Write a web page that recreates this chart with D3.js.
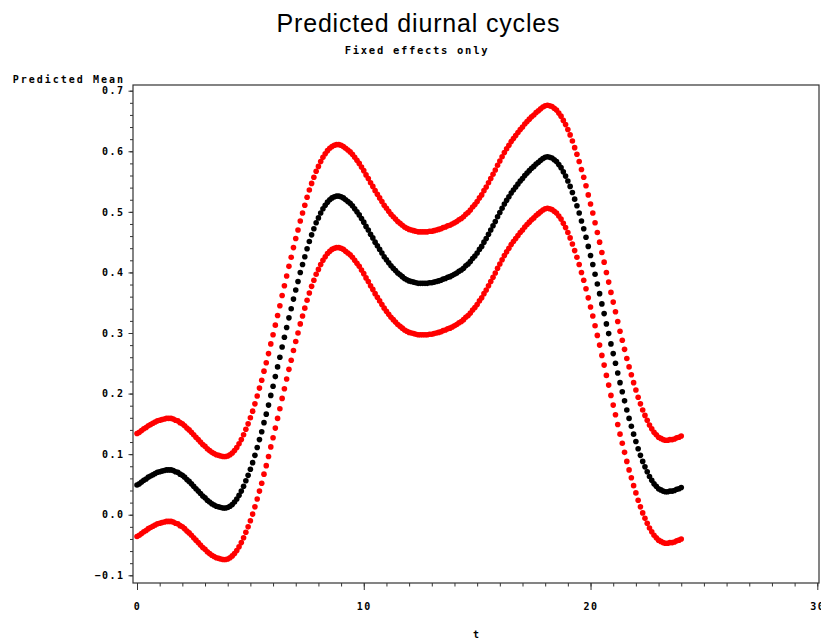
<!DOCTYPE html>
<html>
<head>
<meta charset="utf-8">
<script src="https://cdn.jsdelivr.net/npm/d3@7"></script>
<style>
    body { margin: 0; background: #fff; }
    text { font-family: "DejaVu Sans Mono", monospace; font-weight: bold; fill: #000; }
</style>
</head>
<body>
<div id="container"></div>
<script>
// t runs 0..24 by 0.1 (241 points)
const tValues = d3.range(0, 241).map(i => i / 10);

// predicted mean (black)
const meanVals = [
    0.049, 0.051, 0.054, 0.057, 0.059, 0.062, 0.064, 0.066, 0.068, 0.070,
    0.071, 0.072, 0.073, 0.074, 0.074, 0.074, 0.073, 0.071, 0.070, 0.067,
    0.065, 0.062, 0.058, 0.055, 0.051, 0.047, 0.043, 0.039, 0.035, 0.031,
    0.028, 0.024, 0.021, 0.018, 0.016, 0.014, 0.013, 0.012, 0.011, 0.011,
    0.012, 0.014, 0.017, 0.021, 0.026, 0.032, 0.039, 0.047, 0.056, 0.065,
    0.075, 0.086, 0.098, 0.111, 0.124, 0.137, 0.152, 0.166, 0.181, 0.197,
    0.212, 0.228, 0.244, 0.260, 0.277, 0.293, 0.309, 0.325, 0.340, 0.356,
    0.371, 0.385, 0.400, 0.413, 0.426, 0.439, 0.451, 0.462, 0.472, 0.482,
    0.490, 0.498, 0.505, 0.511, 0.516, 0.520, 0.523, 0.525, 0.526, 0.526,
    0.525, 0.523, 0.520, 0.517, 0.514, 0.510, 0.505, 0.500, 0.495, 0.489,
    0.483, 0.476, 0.470, 0.463, 0.457, 0.450, 0.444, 0.438, 0.432, 0.426,
    0.421, 0.416, 0.411, 0.407, 0.403, 0.399, 0.396, 0.393, 0.390, 0.388,
    0.386, 0.385, 0.384, 0.383, 0.382, 0.382, 0.382, 0.382, 0.382, 0.383,
    0.383, 0.384, 0.385, 0.386, 0.387, 0.389, 0.390, 0.392, 0.393, 0.395,
    0.397, 0.399, 0.402, 0.404, 0.407, 0.411, 0.414, 0.418, 0.423, 0.427,
    0.432, 0.438, 0.443, 0.450, 0.456, 0.463, 0.470, 0.477, 0.484, 0.492,
    0.499, 0.506, 0.513, 0.519, 0.525, 0.531, 0.536, 0.541, 0.546, 0.551,
    0.555, 0.560, 0.564, 0.568, 0.572, 0.575, 0.579, 0.582, 0.585, 0.588,
    0.590, 0.591, 0.590, 0.589, 0.586, 0.583, 0.578, 0.573, 0.566, 0.559,
    0.551, 0.542, 0.532, 0.521, 0.510, 0.498, 0.485, 0.472, 0.458, 0.443,
    0.428, 0.413, 0.397, 0.381, 0.365, 0.348, 0.332, 0.315, 0.299, 0.282,
    0.266, 0.250, 0.234, 0.218, 0.203, 0.188, 0.173, 0.159, 0.146, 0.133,
    0.121, 0.109, 0.098, 0.088, 0.079, 0.071, 0.063, 0.057, 0.051, 0.047,
    0.043, 0.041, 0.039, 0.038, 0.038, 0.039, 0.039, 0.040, 0.042, 0.043,
    0.045
];

// upper limit (red)
const upperVals = [
    0.134, 0.136, 0.139, 0.142, 0.144, 0.147, 0.149, 0.151, 0.153, 0.155,
    0.156, 0.157, 0.158, 0.159, 0.159, 0.159, 0.158, 0.156, 0.155, 0.152,
    0.150, 0.147, 0.143, 0.140, 0.136, 0.132, 0.128, 0.124, 0.120, 0.116,
    0.113, 0.109, 0.106, 0.103, 0.101, 0.099, 0.098, 0.097, 0.096, 0.096,
    0.097, 0.099, 0.102, 0.106, 0.111, 0.117, 0.124, 0.132, 0.141, 0.150,
    0.160, 0.171, 0.183, 0.196, 0.209, 0.222, 0.237, 0.251, 0.266, 0.282,
    0.297, 0.313, 0.329, 0.345, 0.362, 0.378, 0.394, 0.410, 0.425, 0.441,
    0.456, 0.470, 0.485, 0.498, 0.511, 0.524, 0.536, 0.547, 0.557, 0.567,
    0.575, 0.583, 0.590, 0.596, 0.601, 0.605, 0.608, 0.610, 0.611, 0.611,
    0.610, 0.608, 0.605, 0.602, 0.599, 0.595, 0.590, 0.585, 0.580, 0.574,
    0.568, 0.561, 0.555, 0.548, 0.542, 0.535, 0.529, 0.523, 0.517, 0.511,
    0.506, 0.501, 0.496, 0.492, 0.488, 0.484, 0.481, 0.478, 0.475, 0.473,
    0.471, 0.470, 0.469, 0.468, 0.467, 0.467, 0.467, 0.467, 0.467, 0.468,
    0.468, 0.469, 0.470, 0.471, 0.472, 0.474, 0.475, 0.477, 0.478, 0.480,
    0.482, 0.484, 0.487, 0.489, 0.492, 0.496, 0.499, 0.503, 0.508, 0.512,
    0.517, 0.523, 0.528, 0.535, 0.541, 0.548, 0.555, 0.562, 0.569, 0.577,
    0.584, 0.591, 0.598, 0.604, 0.610, 0.616, 0.621, 0.626, 0.631, 0.636,
    0.640, 0.645, 0.649, 0.653, 0.657, 0.660, 0.664, 0.667, 0.670, 0.673,
    0.675, 0.676, 0.675, 0.674, 0.671, 0.668, 0.663, 0.658, 0.651, 0.644,
    0.636, 0.627, 0.617, 0.606, 0.595, 0.583, 0.570, 0.557, 0.543, 0.528,
    0.513, 0.498, 0.482, 0.466, 0.450, 0.433, 0.417, 0.400, 0.384, 0.367,
    0.351, 0.335, 0.319, 0.303, 0.288, 0.273, 0.258, 0.244, 0.231, 0.218,
    0.206, 0.194, 0.183, 0.173, 0.164, 0.156, 0.148, 0.142, 0.136, 0.132,
    0.128, 0.126, 0.124, 0.123, 0.123, 0.124, 0.124, 0.125, 0.127, 0.128,
    0.130
];

// lower limit (red)
const lowerVals = [
    -0.036, -0.034, -0.031, -0.028, -0.026, -0.023, -0.021, -0.019, -0.017, -0.015,
    -0.014, -0.013, -0.012, -0.011, -0.011, -0.011, -0.012, -0.014, -0.015, -0.018,
    -0.020, -0.023, -0.027, -0.030, -0.034, -0.038, -0.042, -0.046, -0.050, -0.054,
    -0.057, -0.061, -0.064, -0.067, -0.069, -0.071, -0.072, -0.073, -0.074, -0.074,
    -0.073, -0.071, -0.068, -0.064, -0.059, -0.053, -0.046, -0.038, -0.029, -0.020,
    -0.010, 0.001, 0.013, 0.026, 0.039, 0.052, 0.067, 0.081, 0.096, 0.112,
    0.127, 0.143, 0.159, 0.175, 0.192, 0.208, 0.224, 0.240, 0.255, 0.271,
    0.286, 0.300, 0.315, 0.328, 0.341, 0.354, 0.366, 0.377, 0.387, 0.397,
    0.405, 0.413, 0.420, 0.426, 0.431, 0.435, 0.438, 0.440, 0.441, 0.441,
    0.440, 0.438, 0.435, 0.432, 0.429, 0.425, 0.420, 0.415, 0.410, 0.404,
    0.398, 0.391, 0.385, 0.378, 0.372, 0.365, 0.359, 0.353, 0.347, 0.341,
    0.336, 0.331, 0.326, 0.322, 0.318, 0.314, 0.311, 0.308, 0.305, 0.303,
    0.301, 0.300, 0.299, 0.298, 0.297, 0.297, 0.297, 0.297, 0.297, 0.298,
    0.298, 0.299, 0.300, 0.301, 0.302, 0.304, 0.305, 0.307, 0.308, 0.310,
    0.312, 0.314, 0.317, 0.319, 0.322, 0.326, 0.329, 0.333, 0.338, 0.342,
    0.347, 0.353, 0.358, 0.365, 0.371, 0.378, 0.385, 0.392, 0.399, 0.407,
    0.414, 0.421, 0.428, 0.434, 0.440, 0.446, 0.451, 0.456, 0.461, 0.466,
    0.470, 0.475, 0.479, 0.483, 0.487, 0.490, 0.494, 0.497, 0.500, 0.503,
    0.505, 0.506, 0.505, 0.504, 0.501, 0.498, 0.493, 0.488, 0.481, 0.474,
    0.466, 0.457, 0.447, 0.436, 0.425, 0.413, 0.400, 0.387, 0.373, 0.358,
    0.343, 0.328, 0.312, 0.296, 0.280, 0.263, 0.247, 0.230, 0.214, 0.197,
    0.181, 0.165, 0.149, 0.133, 0.118, 0.103, 0.088, 0.074, 0.061, 0.048,
    0.036, 0.024, 0.013, 0.003, -0.006, -0.014, -0.022, -0.028, -0.034, -0.038,
    -0.042, -0.044, -0.046, -0.047, -0.047, -0.046, -0.046, -0.045, -0.043, -0.042,
    -0.040
];

const xMajorTicks = [0, 10, 20, 30];
const yMajorTicks = [-0.1, 0.0, 0.1, 0.2, 0.3, 0.4, 0.5, 0.6, 0.7];

const width = 821, height = 641;
const frame = {left: 133, top: 85, right: 819, bottom: 583};

const svg = d3.select("#container")
    .append("svg")
    .attr("width", width)
    .attr("height", height);

const x = d3.scaleLinear().domain([0, 30]).range([137, 817.3]);
const y = d3.scaleLinear().domain([-0.1, 0.7]).range([575.3, 90.7]);

// titles
svg.append("text")
    .attr("x", 418).attr("y", 32)
    .attr("text-anchor", "middle")
    .style("font-family", "'Liberation Sans', Arial, sans-serif")
    .style("font-weight", "normal")
    .style("font-size", "25px")
    .attr("textLength", 283)
    .text("Predicted diurnal cycles");

svg.append("text")
    .attr("x", 417).attr("y", 54)
    .attr("text-anchor", "middle")
    .style("font-size", "10.5px")
    .style("letter-spacing", "1.7px")
    .text("Fixed effects only");

// frame
svg.append("rect")
    .attr("x", frame.left).attr("y", frame.top)
    .attr("width", frame.right - frame.left)
    .attr("height", frame.bottom - frame.top)
    .attr("fill", "none")
    .attr("stroke", "#333")
    .attr("stroke-width", 1.2);

// x axis: minor then major ticks
const xMinor = svg.append("g")
    .attr("transform", `translate(0,${frame.bottom})`)
    .call(d3.axisBottom(x).tickValues(d3.range(0, 31)).tickSize(3.5).tickFormat(""));
const xMajor = svg.append("g")
    .attr("transform", `translate(0,${frame.bottom})`)
    .call(d3.axisBottom(x).tickValues(xMajorTicks).tickSize(7).tickPadding(13).tickFormat(d3.format("d")));

// y axis
const yMinor = svg.append("g")
    .attr("transform", `translate(${frame.left},0)`)
    .call(d3.axisLeft(y).tickValues(d3.range(-50, 351, 10).map(v => v / 500)).tickSize(3).tickFormat(""));
const yMajor = svg.append("g")
    .attr("transform", `translate(${frame.left},0)`)
    .call(d3.axisLeft(y).tickValues(yMajorTicks).tickSize(4.5).tickPadding(4).tickFormat(d3.format(".1f")));

[xMinor, xMajor, yMinor, yMajor].forEach(g => {
    g.select(".domain").remove();
    g.selectAll("line").attr("stroke", "#333");
    g.selectAll("text")
        .style("font-family", "'DejaVu Sans Mono', monospace")
        .style("font-weight", "bold")
        .style("font-size", "10px")
        .style("letter-spacing", "1.5px")
        .attr("fill", "#000");
});

// axis labels
svg.append("text")
    .attr("x", 125).attr("y", 83)
    .attr("text-anchor", "end")
    .style("font-size", "10px")
    .style("letter-spacing", "2px")
    .text("Predicted Mean");

svg.append("text")
    .attr("x", 476).attr("y", 638)
    .attr("text-anchor", "middle")
    .style("font-size", "10px")
    .text("t");

// dots
const series = [
    {name: "upper", values: upperVals, color: "#f00"},
    {name: "lower", values: lowerVals, color: "#f00"},
    {name: "mean", values: meanVals, color: "#000"}
];

series.forEach(s => {
    svg.append("g")
        .attr("class", "dots " + s.name)
        .selectAll("circle")
        .data(tValues.map((t, i) => ({t: t, v: s.values[i]})))
        .enter()
        .append("circle")
        .attr("cx", d => x(d.t))
        .attr("cy", d => y(d.v))
        .attr("r", 2.8)
        .attr("fill", s.color);
});
</script>
</body>
</html>
